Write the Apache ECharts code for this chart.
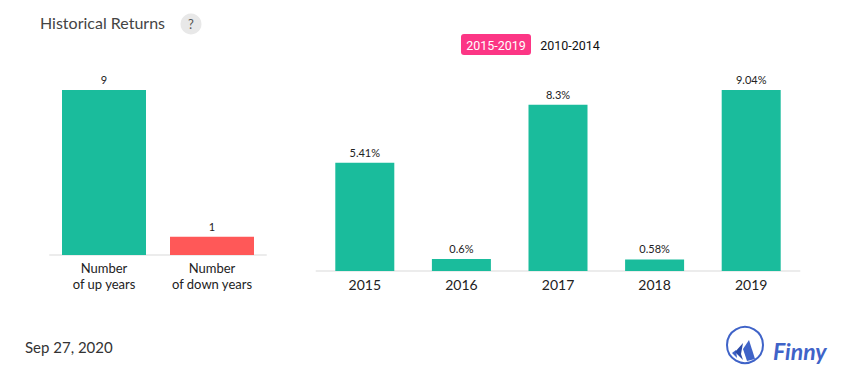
<!DOCTYPE html>
<html>
<head>
<meta charset="utf-8">
<title>Historical Returns</title>
<script src="https://cdn.jsdelivr.net/npm/echarts@6/dist/echarts.min.js"></script>
<style>
    html, body { margin: 0; padding: 0; background: #fff; }
    #chart { width: 855px; height: 382px; }
</style>
</head>
<body>
<div id="chart"></div>
<script>
var countCategories = ['Number\nof up years', 'Number\nof down years'];
var countValues = [9, 1];
var countColors = ['#1abc9c', '#ff5858'];
var returnYears = ['2015', '2016', '2017', '2018', '2019'];
var returnValues = [5.41, 0.6, 8.3, 0.58, 9.04];
var periodLabels = ['2015-2019', '2010-2014'];
var dateLabel = 'Sep 27, 2020';

var chart = echarts.init(document.getElementById('chart'), null, { renderer: 'svg' });

var option = {
    backgroundColor: '#fff',
    animation: false,
    textStyle: { fontFamily: 'Lato' },
    grid: [
        { left: 50, top: 90, width: 216, height: 165 },     // 左侧: 涨跌年数
        { left: 316.5, top: 90, width: 483, height: 181 }   // 右侧: 年度收益
    ],
    xAxis: [
        {
            type: 'category', gridIndex: 0, data: countCategories,
            axisTick: { show: false },
            axisLine: { lineStyle: { color: '#ececec', width: 2 } },
            axisLabel: { color: '#222', fontSize: 13, lineHeight: 16, margin: 5, interval: 0 }
        },
        {
            type: 'category', gridIndex: 1, data: returnYears,
            axisTick: { show: false },
            axisLine: { lineStyle: { color: '#ececec', width: 2 } },
            axisLabel: { color: '#222', fontSize: 14, margin: 6, interval: 0 }
        }
    ],
    yAxis: [
        { type: 'value', gridIndex: 0, min: 0, max: 9, show: false },
        { type: 'value', gridIndex: 1, min: 0, max: 9.04, show: false }
    ],
    series: [
        {
            type: 'bar', xAxisIndex: 0, yAxisIndex: 0, barWidth: 84,
            data: countValues.map(function (v, i) {
                return { value: v, itemStyle: { color: countColors[i] } };
            }),
            label: { show: true, position: 'top', distance: 5, color: '#222', fontSize: 11 }
        },
        {
            type: 'bar', xAxisIndex: 1, yAxisIndex: 1, barWidth: 59,
            data: returnValues,
            itemStyle: { color: '#1abc9c' },
            label: {
                show: true, position: 'top', distance: 5, color: '#222', fontSize: 11,
                formatter: function (p) { return p.value + '%'; }
            }
        }
    ],
    graphic: [
        { type: 'text', left: 40, top: 14, style: { text: 'Historical Returns', fill: '#444', font: '16px Lato' } },
        { type: 'circle', shape: { cx: 191, cy: 24, r: 10.5 }, style: { fill: '#e8e8e8' } },
        { type: 'text', x: 191, y: 24, style: { text: '?', fill: '#555', font: '13px Lato', align: 'center', verticalAlign: 'middle' } },
        { type: 'rect', shape: { x: 461, y: 34, width: 70, height: 21, r: 3 }, style: { fill: '#fc3685' } },
        { type: 'text', x: 496, y: 45, style: { text: periodLabels[0], fill: '#fff', font: '12.5px Roboto', align: 'center', verticalAlign: 'middle' } },
        { type: 'text', x: 570, y: 45, style: { text: periodLabels[1], fill: '#111', font: '12.5px Roboto', align: 'center', verticalAlign: 'middle' } },
        { type: 'text', left: 25, top: 339, style: { text: dateLabel, fill: '#333', font: '15px Lato' } },
        // Finny 标志
        { type: 'circle', shape: { cx: 745, cy: 345, r: 18 }, style: { fill: 'none', stroke: '#3f63c8', lineWidth: 2 } },
        { type: 'polygon', shape: { points: [[732, 353], [736, 350], [737, 358]] }, style: { fill: '#3f63c8' } },
        { type: 'polygon', shape: { points: [[735, 352], [743, 343], [741, 354], [743, 360]] }, style: { fill: '#2b4aa8' } },
        { type: 'polygon', shape: { points: [[743, 349], [749, 340], [755, 359], [747, 361]] }, style: { fill: '#3f63c8' } },
        { type: 'text', x: 773, y: 351, style: { text: 'Finny', fill: '#3f63c8', font: 'italic bold 23px Lato', verticalAlign: 'middle' } }
    ]
};
chart.setOption(option);
</script>
</body>
</html>
